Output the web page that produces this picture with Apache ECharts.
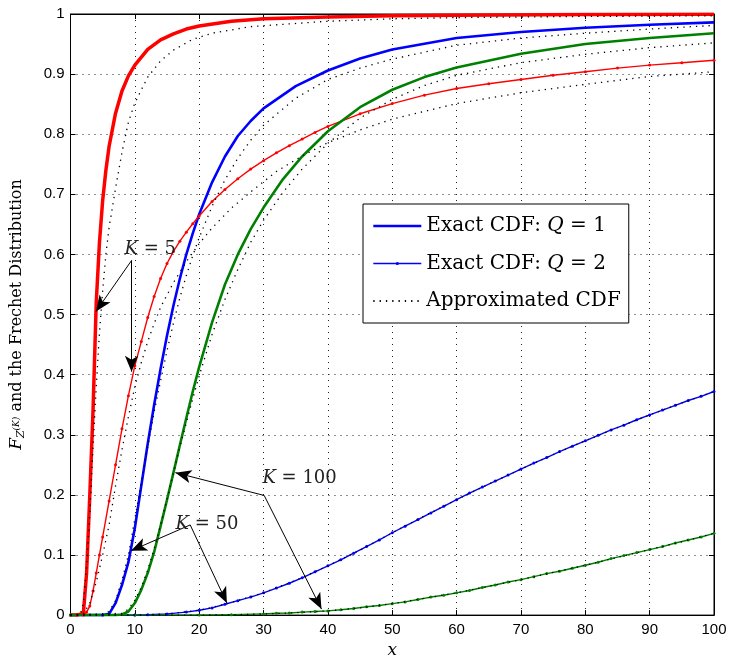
<!DOCTYPE html>
<html><head><meta charset="utf-8">
<script src="https://cdn.jsdelivr.net/npm/echarts@6/dist/echarts.min.js"></script>
<style>html,body{margin:0;padding:0;background:#fff}#c{width:730px;height:664px}</style>
</head><body><div id="c"></div>
<script>
// ---------------- data ----------------
const xTickValues = [0,10,20,30,40,50,60,70,80,90,100];
const yTickValues = [0,0.1,0.2,0.3,0.4,0.5,0.6,0.7,0.8,0.9,1];

// K = 5, Q = 1 (exact, thick red)
const xK5Q1 = [0,1,2,2.5,3,3.5,4,4.5,5,5.5,6,7,8,9,10,12,14,16,18,20,25,30,40,50,60,80,100];
const yK5Q1 = [0,0,0.003,0.07,0.2,0.34,0.52,0.62,0.69,0.74,0.78,0.835,0.872,0.897,0.915,0.941,0.957,0.967,0.975,0.98,0.988,0.992,0.995,0.997,0.998,0.999,0.9995];
// K = 5, Q = 1 (approximation)
const xK5Q1a = [0,1.5,2,2.5,3,3.5,4,4.5,5,5.5,6,7,8,9,10,12,14,16,19,22,28,40,50,60,80,100];
const yK5Q1a = [0,0,0.02,0.08,0.17,0.28,0.38,0.47,0.54,0.6,0.645,0.71,0.77,0.82,0.852,0.895,0.922,0.94,0.958,0.968,0.979,0.988,0.992,0.994,0.996,0.997];

// K = 5, Q = 2 (exact, thin red with points)
const xK5Q2 = [0,1,2,2.5,3,3.5,4,4.5,5,6,7,8,9,10,11,12,13,14,15,16,17,18,19,20,22,24,26,28,30,32,34,36,38,40,45,50,55,60,65,70,75,80,85,90,95,100];
const yK5Q2 = [0,0,0,0.005,0.015,0.04,0.07,0.1,0.13,0.19,0.25,0.31,0.365,0.415,0.455,0.495,0.53,0.56,0.585,0.605,0.622,0.637,0.651,0.664,0.688,0.708,0.726,0.742,0.756,0.769,0.781,0.792,0.803,0.813,0.834,0.851,0.865,0.876,0.884,0.891,0.898,0.904,0.91,0.915,0.919,0.923];
// K = 5, Q = 2 (approximation)
const xK5Q2a = [0,2,3,4,5,6,7,8,9,10,11,12,13,14,16,18,20,22,25,28,32,36,40,45,50,60,70,80,90,100];
const yK5Q2a = [0,0.002,0.02,0.055,0.1,0.15,0.215,0.275,0.33,0.38,0.42,0.455,0.485,0.512,0.553,0.588,0.618,0.644,0.677,0.704,0.738,0.764,0.786,0.807,0.825,0.851,0.869,0.883,0.896,0.904];

// K = 50, Q = 1 (exact, thick blue)
const xK50Q1 = [0,5,6,7,8,9,10,11,12,13,14,15,16,17,18,19,20,22,24,26,28,30,35,40,45,50,60,70,80,90,100];
const yK50Q1 = [0,0,0.002,0.02,0.05,0.088,0.145,0.215,0.285,0.35,0.41,0.465,0.515,0.56,0.6,0.635,0.667,0.72,0.763,0.797,0.822,0.843,0.88,0.906,0.926,0.941,0.96,0.97,0.977,0.982,0.986];
// K = 50, Q = 1 (approximation)
const xK50Q1a = [0,5,6,7,8,9,10,11,12,13,14,15,16,17,18,19,20,22,24,26,28,30,35,40,45,50,60,70,80,90,100];
const yK50Q1a = [0,0.001,0.006,0.024,0.058,0.1,0.16,0.22,0.28,0.338,0.39,0.44,0.486,0.528,0.565,0.598,0.628,0.68,0.724,0.76,0.79,0.815,0.86,0.891,0.91,0.925,0.948,0.96,0.968,0.975,0.981];

// K = 50, Q = 2 (exact, thin blue with points)
const xK50Q2 = [0,5,10,12,15,18,20,22,24,26,28,30,32,34,36,38,40,42,44,46,48,50,52,54,56,58,60,62,64,66,68,70,72,74,76,78,80,82,84,86,88,90,92,94,96,98,100];
const yK50Q2 = [0,0,0,0.0005,0.002,0.005,0.008,0.012,0.018,0.024,0.03,0.037,0.045,0.053,0.062,0.072,0.082,0.092,0.103,0.114,0.125,0.137,0.148,0.159,0.17,0.181,0.192,0.203,0.213,0.223,0.233,0.243,0.253,0.262,0.272,0.281,0.29,0.299,0.308,0.316,0.325,0.333,0.341,0.349,0.357,0.364,0.372];
// K = 50, Q = 2 (approximation)
const xK50Q2a = [0,10,15,20,24,30,35,40,45,50,55,60,65,70,75,80,85,90,95,100];
const yK50Q2a = [0,0,0.002,0.008,0.018,0.037,0.058,0.082,0.108,0.137,0.165,0.192,0.218,0.243,0.267,0.29,0.312,0.333,0.353,0.372];

// K = 100, Q = 1 (exact, thick green)
const xK100Q1 = [0,7,8,9,10,11,12,13,14,15,16,17,18,19,20,22,24,26,28,30,33,36,40,45,50,55,60,70,80,90,100];
const yK100Q1 = [0,0,0.001,0.006,0.02,0.042,0.07,0.105,0.148,0.192,0.237,0.283,0.328,0.372,0.413,0.487,0.55,0.6,0.642,0.678,0.725,0.763,0.805,0.845,0.874,0.895,0.911,0.934,0.95,0.96,0.968];
// K = 100, Q = 1 (approximation)
const xK100Q1a = [0,8,9,10,11,12,13,14,15,16,17,18,19,20,22,24,26,28,30,33,36,40,45,50,55,60,70,80,90,100];
const yK100Q1a = [0,0.003,0.01,0.025,0.046,0.075,0.11,0.15,0.193,0.237,0.28,0.32,0.36,0.398,0.467,0.525,0.575,0.62,0.657,0.703,0.742,0.785,0.827,0.858,0.881,0.898,0.919,0.933,0.944,0.952];

// K = 100, Q = 2 (exact, thin green with points)
const xK100Q2 = [0,10,20,25,30,32,34,36,38,40,42,44,46,48,50,52,54,56,58,60,62,64,66,68,70,72,74,76,78,80,82,84,86,88,90,92,94,96,98,100];
const yK100Q2 = [0,0,0,0.0005,0.002,0.003,0.0035,0.005,0.006,0.007,0.009,0.011,0.014,0.016,0.019,0.022,0.026,0.03,0.033,0.037,0.041,0.046,0.05,0.055,0.059,0.064,0.069,0.073,0.078,0.083,0.088,0.094,0.099,0.104,0.109,0.114,0.12,0.125,0.13,0.136];
// K = 100, Q = 2 (approximation)
const xK100Q2a = [0,20,25,30,35,40,45,50,55,60,65,70,75,80,85,90,95,100];
const yK100Q2a = [0,0,0.0005,0.002,0.004,0.007,0.012,0.019,0.028,0.037,0.048,0.059,0.071,0.083,0.096,0.109,0.122,0.136];

const legendNames = ['Exact CDF: Q = 1', 'Exact CDF: Q = 2', 'Approximated CDF'];
const annotationTexts = ['5', '100', '50'];

// ---------------- chart ----------------
const pairs = (xs, ys) => xs.map((v, i) => [v, ys[i]]);
const RED = '#ff0000', BLUE = '#0000ff', GREEN = '#008000';
const SERIF = 'DejaVu Serif';

function exact(name, xs, ys, color, thick) {
  const s = {
    name, type: 'line', data: pairs(xs, ys), smooth: false,
    lineStyle: { color, width: thick ? (color === RED ? 3.5 : 2.6) : 1.4, join: 'round' },
    itemStyle: { color }, emphasis: { disabled: true }, z: 2
  };
  if (thick) { s.symbol = 'none'; s.showSymbol = false; }
  else { s.symbol = 'circle'; s.symbolSize = 3; s.showSymbol = true; }
  return s;
}
function approx(name, xs, ys) {
  return {
    name, type: 'line', data: pairs(xs, ys), smooth: false,
    symbol: 'none', showSymbol: false,
    lineStyle: { color: '#000', width: 1.3, type: [1.3, 5] },
    itemStyle: { color: '#000' }, emphasis: { disabled: true }, z: 3
  };
}

const series = [
  exact(legendNames[0], xK50Q1, yK50Q1, BLUE, true),
  exact(legendNames[1], xK50Q2, yK50Q2, BLUE, false),
  exact('K5 Q1', xK5Q1, yK5Q1, RED, true),
  exact('K5 Q2', xK5Q2, yK5Q2, RED, false),
  exact('K100 Q1', xK100Q1, yK100Q1, GREEN, true),
  exact('K100 Q2', xK100Q2, yK100Q2, GREEN, false),
  approx(legendNames[2], xK5Q1a, yK5Q1a),
  approx('a K5 Q2', xK5Q2a, yK5Q2a),
  approx('a K50 Q1', xK50Q1a, yK50Q1a),
  approx('a K50 Q2', xK50Q2a, yK50Q2a),
  approx('a K100 Q1', xK100Q1a, yK100Q1a),
  approx('a K100 Q2', xK100Q2a, yK100Q2a)
];

// annotation arrows (data coordinates of start and tip)
series[0].markLine = {
  silent: true, symbol: ['none', 'arrow'], symbolSize: [10, 16],
  lineStyle: { color: '#000', width: 1, type: 'solid' },
  itemStyle: { color: '#000' }, label: { show: false }, emphasis: { disabled: true },
  data: [
    [{ coord: [9.49, 0.59] }, { coord: [3.95, 0.505] }],
    [{ coord: [9.49, 0.59] }, { coord: [9.49, 0.405] }],
    [{ coord: [30.1, 0.199] }, { coord: [16.3, 0.237] }],
    [{ coord: [30.1, 0.199] }, { coord: [39.0, 0.010] }],
    [{ coord: [18.6, 0.150] }, { coord: [9.4, 0.107] }],
    [{ coord: [18.6, 0.150] }, { coord: [24.3, 0.020] }]
  ]
};

const axisCommon = {
  type: 'value',
  axisLine: { show: true, onZero: false, lineStyle: { color: '#000', width: 1 } },
  axisTick: { show: true, inside: true, length: 5, lineStyle: { color: '#000' } }
};
const tickLabel = { color: '#000', fontFamily: 'Liberation Sans', fontSize: 15 };
const gridLine = { show: true, lineStyle: { color: '#222', width: 1, type: [1, 5] } };

const option = {
  animation: false,
  backgroundColor: '#fff',
  grid: { left: 68, right: 16, top: 14, bottom: 38, show: true, borderColor: '#000', borderWidth: 1, backgroundColor: '#fff' },
  xAxis: [
    Object.assign({}, axisCommon, {
      min: xTickValues[0], max: xTickValues[xTickValues.length - 1], interval: xTickValues[1] - xTickValues[0],
      position: 'bottom', axisLabel: Object.assign({ margin: 7 }, tickLabel), splitLine: gridLine,
      name: 'x', nameLocation: 'middle', nameGap: 20,
      nameTextStyle: { fontFamily: SERIF, fontStyle: 'italic', fontSize: 17, color: '#000' }
    }),
    Object.assign({}, axisCommon, {
      min: xTickValues[0], max: xTickValues[xTickValues.length - 1], interval: xTickValues[1] - xTickValues[0],
      position: 'top', axisLabel: { show: false }, splitLine: { show: false }
    })
  ],
  yAxis: [
    Object.assign({}, axisCommon, {
      min: yTickValues[0], max: yTickValues[yTickValues.length - 1], interval: 0.1,
      position: 'left', axisLabel: Object.assign({ margin: 6 }, tickLabel), splitLine: gridLine,
      name: '{f|F}{z|Z}{k|(K)}{n| and the Frechet Distribution}', nameLocation: 'middle', nameGap: 42, nameRotate: 90,
      nameTextStyle: {
        color: '#000', fontFamily: SERIF, fontSize: 16,
        rich: {
          f: { fontFamily: SERIF, fontStyle: 'italic', fontSize: 17, color: '#000', lineHeight: 24, verticalAlign: 'middle' },
          z: { fontFamily: SERIF, fontStyle: 'italic', fontSize: 11, color: '#000', lineHeight: 24, verticalAlign: 'bottom', padding: [0, 0, 2, 0] },
          k: { fontFamily: SERIF, fontStyle: 'italic', fontSize: 9, color: '#000', lineHeight: 24, verticalAlign: 'middle' },
          n: { fontFamily: SERIF, fontSize: 16, color: '#000', lineHeight: 24, verticalAlign: 'middle' }
        }
      }
    }),
    Object.assign({}, axisCommon, {
      min: yTickValues[0], max: yTickValues[yTickValues.length - 1], interval: 0.1,
      position: 'right', axisLabel: { show: false }, splitLine: { show: false }
    })
  ],
  legend: {
    data: [
      { name: legendNames[0], itemStyle: { opacity: 0 }, lineStyle: { width: 2.6 } },
      { name: legendNames[1], lineStyle: { width: 1.4 } },
      { name: legendNames[2], itemStyle: { opacity: 0 } }
    ],
    orient: 'vertical', left: 363, top: 204,
    padding: [11, 8, 11, 9], itemWidth: 48, itemHeight: 4, itemGap: 15.5,
    backgroundColor: '#fff', borderColor: '#000', borderWidth: 1, borderRadius: 0,
    selectedMode: false,
    formatter: function (n) {
      if (n === legendNames[2]) return '{a|' + n + '}';
      const parts = n.split('Q');
      return '{a|' + parts[0] + '}{q|Q}{a|' + parts[1] + '}';
    },
    textStyle: {
      color: '#000', fontFamily: SERIF, fontSize: 20, lineHeight: 22,
      rich: {
        a: { fontFamily: SERIF, fontSize: 20, color: '#000', lineHeight: 22 },
        q: { fontFamily: SERIF, fontStyle: 'italic', fontSize: 20, color: '#000', lineHeight: 22 }
      }
    }
  },
  series: series
};

const chart = echarts.init(document.getElementById('c'), null, { renderer: 'canvas' });
chart.setOption(option);

// annotation labels "K = ..."
const labelAt = [[12.4, 0.609], [35.6, 0.228], [21.2, 0.151]];
const graphics = annotationTexts.map(function (t, i) {
  const p = chart.convertToPixel({ gridIndex: 0 }, labelAt[i]);
  return {
    type: 'text', x: p[0], y: p[1], z: 100,
    style: {
      text: '{k|K}{r| = ' + t + '}', align: 'center', verticalAlign: 'middle',
      rich: {
        k: { fontFamily: SERIF, fontStyle: 'italic', fontSize: 18, fill: '#222' },
        r: { fontFamily: SERIF, fontSize: 18, fill: '#222' }
      }
    }
  };
});
chart.setOption({ graphic: graphics });
</script>
</body></html>
